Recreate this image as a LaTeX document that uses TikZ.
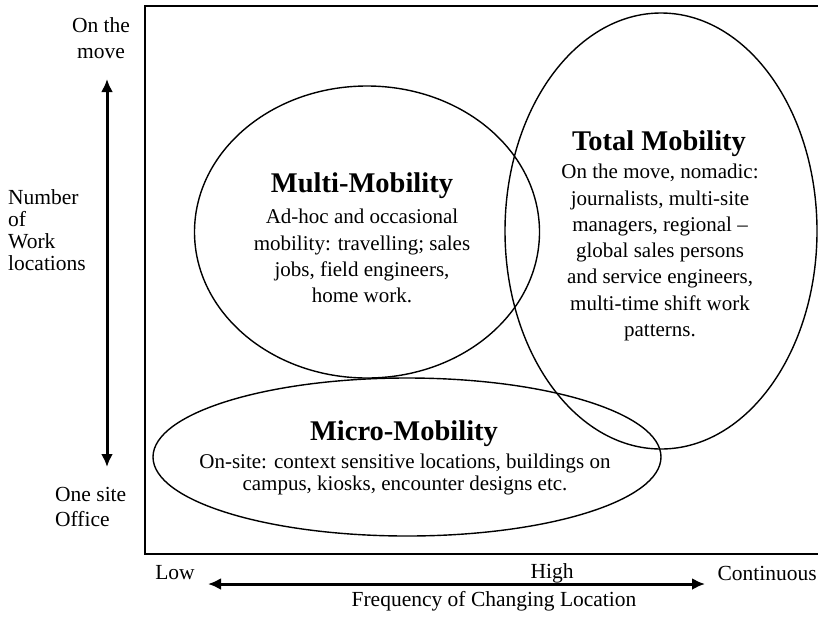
\documentclass[tikz,border=0pt]{standalone}
\usepackage{fontspec}
\setmainfont{Liberation Serif}
\usetikzlibrary{shapes.geometric,arrows.meta}
\begin{document}
\begin{tikzpicture}[x=1pt,y=-1pt,
  oval/.style={draw,ellipse,line width=1.4pt,inner sep=0pt},
  body/.style={align=center,font=\fontsize{21}{26.3}\selectfont,inner sep=0pt,anchor=north},
  bodytight/.style={align=center,font=\fontsize{21}{22}\selectfont,inner sep=0pt,anchor=north},
  head/.style={font=\fontsize{28.5}{32}\selectfont\bfseries,inner sep=0pt},
  lbl/.style={font=\fontsize{21.5}{22}\selectfont,inner sep=0pt},
  axis/.style={line width=3pt,{Latex[length=13pt,width=12pt]}-{Latex[length=13pt,width=12pt]}}]
\useasboundingbox (0,0) rectangle (818,619);
\fill[white] (0,0) rectangle (818,619);
% frame
\draw[line width=1.4pt] (830,6) -- (145,6) -- (145,554) -- (830,554);
% ellipses
\node[oval,minimum width=345pt,minimum height=292pt] (multi) at (367,232) {};
\node[oval,minimum width=312pt,minimum height=436pt] (total) at (661,231) {};
\node[oval,minimum width=508pt,minimum height=158pt] (micro) at (407,457) {};
% texts
\node[head] (mh) at (362,186) {Multi-Mobility};
\node[body] (mb) at (362,209) {Ad-hoc and occasional\\mobility: travelling; sales\\jobs, field engineers,\\home work.};
\node[head] (th) at (659,144) {Total Mobility};
\node[body] (tb) at (660,164) {On the move, nomadic:\\journalists, multi-site\\managers, regional --\\global sales persons\\and service engineers,\\multi-time shift work\\patterns.};
\node[head] (uh) at (404,434) {Micro-Mobility};
\node[bodytight] (ub) at (405,454) {On-site: context sensitive locations, buildings on\\campus, kiosks, encounter designs etc.};
% axis labels
\node[lbl,align=center,anchor=north,font=\fontsize{21.5}{26}\selectfont] (onmove) at (101,17) {On the\\move};
\node[lbl,align=left,anchor=north west] (nwl) at (8,189) {Number\\of\\Work\\locations};
\node[lbl,align=left,anchor=north west,font=\fontsize{21.5}{25}\selectfont] (onesite) at (55,487) {One site\\Office};
\node[lbl] (low) at (175,573) {Low};
\node[lbl] (high) at (552,573) {High};
\node[lbl,anchor=east] (cont) at (817,573) {Continuous};
\node[lbl] (freq) at (494,601) {Frequency of Changing Location};
\coordinate (vtop) at (107,79);
\coordinate (vbot) at (107,467);
\coordinate (hl) at (208,584);
\coordinate (hr) at (705,584);
\draw[axis] (vtop) -- (vbot);
\draw[axis] (hl) -- (hr);
\end{tikzpicture}
\end{document}
